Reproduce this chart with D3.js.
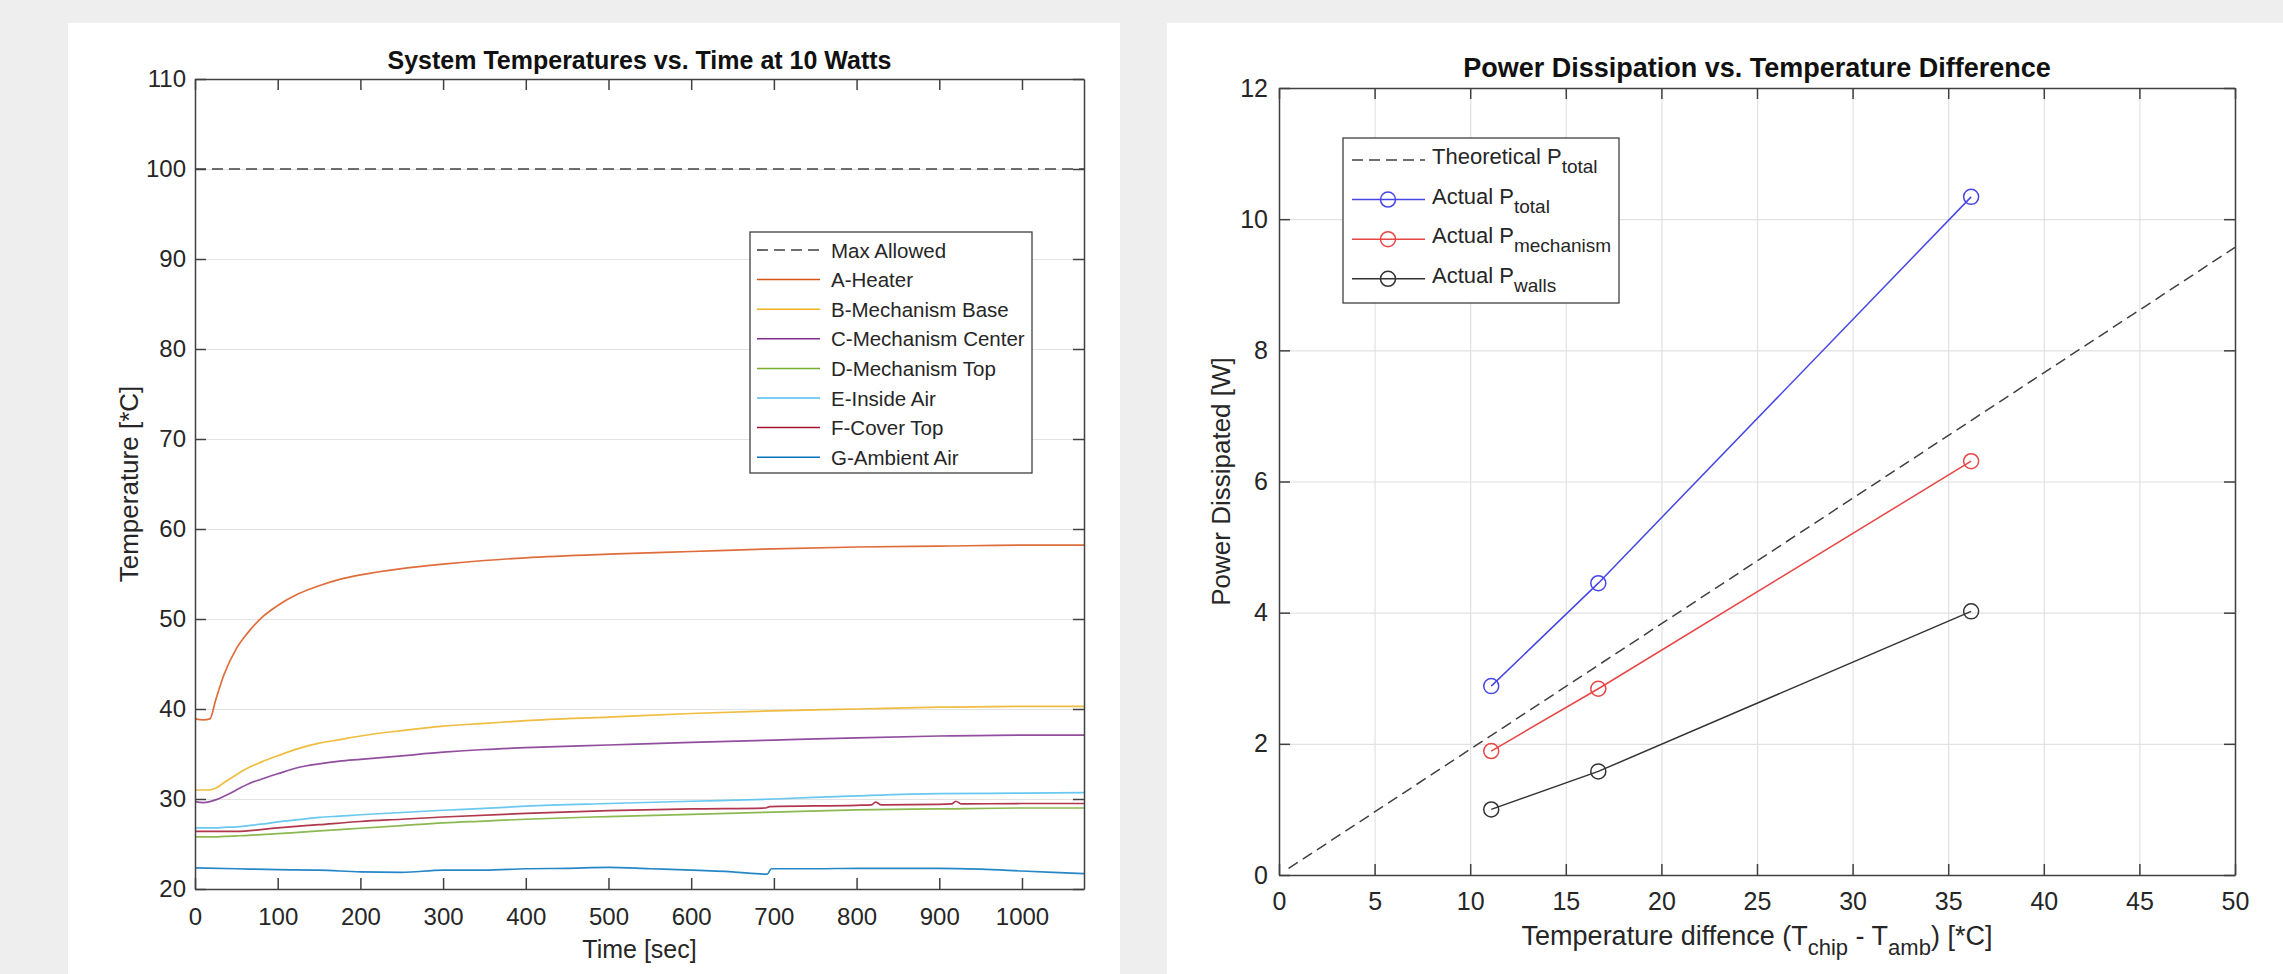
<!DOCTYPE html>
<html>
<head>
<meta charset="utf-8">
<script src="https://cdn.jsdelivr.net/npm/d3@7"></script>
<style>
	body { margin: 0; background: #eeeeee; }
	svg { display: block; font-family: 'Liberation Sans', Arial, sans-serif; }
	.grid line { stroke: #e2e2e2; stroke-width: 1.2; }
	.grid path { display: none; }
	.box path, .box line { stroke: #404040; stroke-width: 1.5; }
	.box text { fill: #262626; }
</style>
</head>
<body>
<div id="chart"></div>
<script>
'use strict';

// ---- left chart : temperatures vs time ----
const timeSec = [0, 10, 18, 25, 35, 50, 65, 80, 100, 125, 150, 175, 200, 250, 300, 350, 400, 500, 600, 700, 800, 900, 1000, 1075];
const heaterA = [38.9, 38.8, 38.9, 41.0, 43.8, 46.7, 48.6, 50.1, 51.5, 52.8, 53.7, 54.4, 54.9, 55.6, 56.1, 56.5, 56.8, 57.2, 57.5, 57.8, 58.0, 58.1, 58.2, 58.2];
const mechBaseB = [31.0, 31.0, 31.0, 31.2, 31.8, 32.7, 33.5, 34.1, 34.8, 35.6, 36.2, 36.6, 37.0, 37.6, 38.1, 38.4, 38.7, 39.1, 39.5, 39.8, 40.0, 40.2, 40.3, 40.3];
const mechCenterC = [29.7, 29.6, 29.7, 29.9, 30.3, 31.0, 31.7, 32.2, 32.8, 33.5, 33.9, 34.2, 34.4, 34.8, 35.2, 35.5, 35.7, 36.0, 36.3, 36.55, 36.8, 37.0, 37.1, 37.1];
const mechTopD = [25.8, 25.8, 25.8, 25.8, 25.85, 25.9, 25.95, 26.05, 26.15, 26.3, 26.45, 26.6, 26.75, 27.05, 27.35, 27.55, 27.75, 28.05, 28.3, 28.55, 28.8, 28.9, 29.0, 29.0];
const insideAirE = [26.8, 26.8, 26.8, 26.8, 26.85, 26.9, 27.05, 27.2, 27.45, 27.7, 27.95, 28.1, 28.25, 28.5, 28.75, 28.95, 29.2, 29.5, 29.75, 30.0, 30.35, 30.6, 30.65, 30.7];
const coverTime = [0, 50, 100, 150, 200, 250, 300, 400, 500, 600, 690, 695, 800, 818, 823, 830, 900, 915, 920, 927, 1000, 1075];
const coverTopF = [26.4, 26.4, 26.8, 27.15, 27.5, 27.75, 28.0, 28.4, 28.7, 28.9, 29.0, 29.15, 29.3, 29.35, 29.65, 29.35, 29.4, 29.45, 29.75, 29.45, 29.5, 29.5];
const ambientTime = [0, 50, 100, 150, 200, 250, 300, 350, 400, 450, 500, 550, 600, 650, 692, 697, 750, 800, 850, 900, 950, 1000, 1075];
const ambientG = [22.35, 22.25, 22.15, 22.1, 21.9, 21.85, 22.1, 22.1, 22.25, 22.3, 22.4, 22.25, 22.1, 21.9, 21.65, 22.25, 22.25, 22.3, 22.3, 22.3, 22.2, 22.0, 21.7];
const maxAllowed = 100;
const tempTicksY = [20, 30, 40, 50, 60, 70, 80, 90, 100, 110];
const timeTicksX = [0, 100, 200, 300, 400, 500, 600, 700, 800, 900, 1000];

// ---- right chart : power vs temperature difference ----
const deltaT = [11.1, 16.7, 36.2];
const pTotal = [2.88, 4.45, 10.34];
const pMechanism = [1.89, 2.84, 6.31];
const pWalls = [1.0, 1.58, 4.02];
const theoryDeltaT = [0.5, 50];
const theoryP = [0.1, 9.57];
const dtTicksX = [0, 5, 10, 15, 20, 25, 30, 35, 40, 45, 50];
const powerTicksY = [0, 2, 4, 6, 8, 10, 12];

const svg = d3.select('#chart').append('svg')
	.attr('width', 2283)
	.attr('height', 974);

svg.append('rect').attr('width', 2283).attr('height', 974).attr('fill', '#eeeeee');
svg.append('rect').attr('x', 68).attr('y', 23).attr('width', 1052).attr('height', 960).attr('fill', '#ffffff');
svg.append('rect').attr('x', 1167).attr('y', 23).attr('width', 1130).attr('height', 960).attr('fill', '#ffffff');

function zip(xs, ys) {
	return xs.map((x, i) => ({ x: x, y: ys[i] }));
}

// grid under the data
function drawFrame(g, x, y, o) {
	const w = x.range()[1] - x.range()[0];
	const h = y.range()[0] - y.range()[1];

	if (o.gridX) {
		g.append('g').attr('class', 'grid')
			.attr('transform', 'translate(0,' + h + ')')
			.call(d3.axisBottom(x).tickValues(o.ticksX).tickSize(-h).tickFormat(''));
	}
	g.append('g').attr('class', 'grid')
		.call(d3.axisLeft(y).tickValues(o.ticksY).tickSize(-w).tickFormat(''));
}

// box with inward ticks on four sides
function drawBox(g, x, y, o) {
	const w = x.range()[1] - x.range()[0];
	const h = y.range()[0] - y.range()[1];
	const fmt = d3.format('d');

	const bottom = g.append('g').attr('class', 'box')
		.attr('transform', 'translate(0,' + h + ')')
		.call(d3.axisBottom(x).tickValues(o.ticksX).tickFormat(fmt).tickSize(-o.tick).tickSizeOuter(0).tickPadding(o.padX));
	bottom.selectAll('text').style('font-size', o.tickFont + 'px');

	const left = g.append('g').attr('class', 'box')
		.call(d3.axisLeft(y).tickValues(o.ticksY).tickFormat(fmt).tickSize(-o.tick).tickSizeOuter(0).tickPadding(o.padY));
	left.selectAll('text').style('font-size', o.tickFont + 'px');

	g.append('g').attr('class', 'box')
		.call(d3.axisTop(x).tickValues(o.ticksX).tickSize(-o.tick).tickSizeOuter(0).tickFormat(''));
	g.append('g').attr('class', 'box')
		.attr('transform', 'translate(' + w + ',0)')
		.call(d3.axisRight(y).tickValues(o.ticksY).tickSize(-o.tick).tickSizeOuter(0).tickFormat(''));
}

// ================= LEFT =================
const L = { left: 195, top: 79, right: 1084, bottom: 889 };
const xL = d3.scaleLinear().domain([0, 1075]).range([0, L.right - L.left]);
const yL = d3.scaleLinear().domain([20, 110]).range([L.bottom - L.top, 0]);
const gL = svg.append('g').attr('transform', 'translate(' + L.left + ',' + L.top + ')');

const optL = { ticksX: timeTicksX, ticksY: tempTicksY, tick: 11, padX: 19, padY: 9, tickFont: 24, gridX: false };
drawFrame(gL, xL, yL, optL);

const lineL = d3.line().x(d => xL(d.x)).y(d => yL(d.y)).curve(d3.curveMonotoneX);

const tempSeries = [
	{ name: 'Max Allowed', data: zip([0, 1075], [maxAllowed, maxAllowed]), color: '#404040', dash: '11,6', width: 1.6 },
	{ name: 'A-Heater', data: zip(timeSec, heaterA), color: '#D95319' },
	{ name: 'B-Mechanism Base', data: zip(timeSec, mechBaseB), color: '#EDB120' },
	{ name: 'C-Mechanism Center', data: zip(timeSec, mechCenterC), color: '#7E2F8E' },
	{ name: 'D-Mechanism Top', data: zip(timeSec, mechTopD), color: '#77AC30' },
	{ name: 'E-Inside Air', data: zip(timeSec, insideAirE), color: '#4DBEEE' },
	{ name: 'F-Cover Top', data: zip(coverTime, coverTopF), color: '#A2142F' },
	{ name: 'G-Ambient Air', data: zip(ambientTime, ambientG), color: '#0072BD' }
];

tempSeries.forEach(s => {
	gL.append('path')
		.attr('d', lineL(s.data))
		.attr('fill', 'none')
		.attr('stroke', s.color)
		.attr('stroke-width', s.width || 1.7)
		.attr('stroke-opacity', s.dash ? 1 : 0.85)
		.attr('stroke-dasharray', s.dash || null);
});

drawBox(gL, xL, yL, optL);

svg.append('text')
	.attr('x', (L.left + L.right) / 2).attr('y', 69)
	.attr('text-anchor', 'middle')
	.style('font-size', '25px').style('font-weight', 'bold').attr('fill', '#111')
	.text('System Temperatures vs. Time at 10 Watts');

svg.append('text')
	.attr('x', (L.left + L.right) / 2).attr('y', 958)
	.attr('text-anchor', 'middle')
	.style('font-size', '25px').attr('fill', '#262626')
	.text('Time [sec]');

svg.append('text')
	.attr('transform', 'translate(138,' + ((L.top + L.bottom) / 2) + ') rotate(-90)')
	.attr('text-anchor', 'middle')
	.style('font-size', '26px').attr('fill', '#262626')
	.text('Temperature [*C]');

// legend left
const legL = svg.append('g');
legL.append('rect')
	.attr('x', 750).attr('y', 232).attr('width', 282).attr('height', 241)
	.attr('fill', '#fff').attr('stroke', '#404040').attr('stroke-width', 1.3);
tempSeries.forEach((s, i) => {
	const ly = 250 + i * 29.6;
	legL.append('line')
		.attr('x1', 757).attr('x2', 820).attr('y1', ly).attr('y2', ly)
		.attr('stroke', s.color).attr('stroke-width', s.width || 1.5)
		.attr('stroke-dasharray', s.dash || null);
	legL.append('text')
		.attr('x', 831).attr('y', ly + 7.5)
		.style('font-size', '20.5px').attr('fill', '#262626')
		.text(s.name);
});

// ================= RIGHT =================
const R = { left: 1279, top: 88, right: 2235, bottom: 875 };
const xR = d3.scaleLinear().domain([0, 50]).range([0, R.right - R.left]);
const yR = d3.scaleLinear().domain([0, 12]).range([R.bottom - R.top, 0]);
const gR = svg.append('g').attr('transform', 'translate(' + R.left + ',' + R.top + ')');

const optR = { ticksX: dtTicksX, ticksY: powerTicksY, tick: 11, padX: 17, padY: 11, tickFont: 25, gridX: true };
drawFrame(gR, xR, yR, optR);

const lineR = d3.line().x(d => xR(d.x)).y(d => yR(d.y));

const powerSeries = [
	{ name: 'Theoretical P', sub: 'total', data: zip(theoryDeltaT, theoryP), color: '#404040', dash: '11,6', marker: false },
	{ name: 'Actual P', sub: 'total', data: zip(deltaT, pTotal), color: '#4646e6', marker: true },
	{ name: 'Actual P', sub: 'mechanism', data: zip(deltaT, pMechanism), color: '#e84545', marker: true },
	{ name: 'Actual P', sub: 'walls', data: zip(deltaT, pWalls), color: '#333333', marker: true }
];

powerSeries.forEach(s => {
	gR.append('path')
		.attr('d', lineR(s.data))
		.attr('fill', 'none')
		.attr('stroke', s.color)
		.attr('stroke-width', 1.5)
		.attr('stroke-dasharray', s.dash || null);
	if (s.marker) {
		gR.selectAll(null).data(s.data).enter().append('circle')
			.attr('cx', d => xR(d.x)).attr('cy', d => yR(d.y)).attr('r', 7.5)
			.attr('fill', 'none').attr('stroke', s.color).attr('stroke-width', 1.5);
	}
});

drawBox(gR, xR, yR, optR);

svg.append('text')
	.attr('x', (R.left + R.right) / 2).attr('y', 77)
	.attr('text-anchor', 'middle')
	.style('font-size', '27px').style('font-weight', 'bold').attr('fill', '#111')
	.text('Power Dissipation vs. Temperature Difference');

const xLabR = svg.append('text')
	.attr('x', (R.left + R.right) / 2).attr('y', 945)
	.attr('text-anchor', 'middle')
	.style('font-size', '27px').attr('fill', '#262626');
xLabR.append('tspan').text('Temperature diffence (T');
xLabR.append('tspan').attr('dy', 10).style('font-size', '22px').text('chip');
xLabR.append('tspan').attr('dy', -10).text(' - T');
xLabR.append('tspan').attr('dy', 10).style('font-size', '22px').text('amb');
xLabR.append('tspan').attr('dy', -10).text(') [*C]');

svg.append('text')
	.attr('transform', 'translate(1230,' + ((R.top + R.bottom) / 2) + ') rotate(-90)')
	.attr('text-anchor', 'middle')
	.style('font-size', '26px').attr('fill', '#262626')
	.text('Power Dissipated [W]');

// legend right
const legR = svg.append('g');
legR.append('rect')
	.attr('x', 1343).attr('y', 138).attr('width', 276).attr('height', 165)
	.attr('fill', '#fff').attr('stroke', '#404040').attr('stroke-width', 1.3);
powerSeries.forEach((s, i) => {
	const ly = 160 + i * 39.6;
	legR.append('line')
		.attr('x1', 1352).attr('x2', 1425).attr('y1', ly).attr('y2', ly)
		.attr('stroke', s.color).attr('stroke-width', 1.5)
		.attr('stroke-dasharray', s.dash || null);
	if (s.marker) {
		legR.append('circle')
			.attr('cx', 1388).attr('cy', ly).attr('r', 7.5)
			.attr('fill', 'none').attr('stroke', s.color).attr('stroke-width', 1.5);
	}
	const t = legR.append('text')
		.attr('x', 1432).attr('y', ly + 4)
		.style('font-size', '22px').attr('fill', '#262626');
	t.append('tspan').text(s.name);
	t.append('tspan').attr('dy', 9).style('font-size', '19px').text(s.sub);
});
</script>
</body>
</html>
